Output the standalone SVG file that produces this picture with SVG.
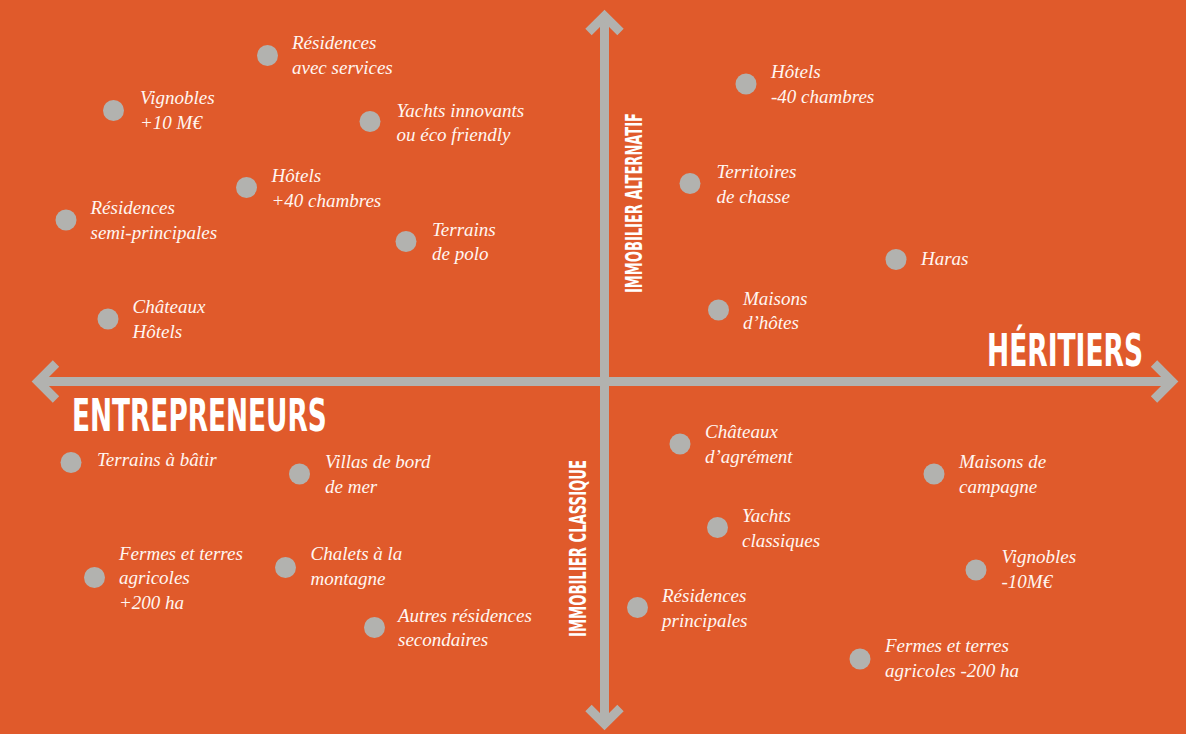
<svg xmlns="http://www.w3.org/2000/svg" width="1186" height="734" viewBox="0 0 1186 734">
  <style>
    .dot { fill: #B2B2AF; }
    .lbl { font-family: "Liberation Serif", "DejaVu Serif", serif; font-style: italic; font-size: 19px; fill: #FFF6F1; }
    .axis { stroke: #B2B2AF; stroke-width: 9; fill: none; stroke-linejoin: miter; stroke-miterlimit: 10; }
    .head { font-family: "Liberation Sans Narrow", "DejaVu Sans Condensed", "Liberation Sans", sans-serif; font-weight: bold; font-size: 44px; fill: #FFFFFF; }
    .vlab { font-family: "Liberation Sans Narrow", "DejaVu Sans Condensed", "Liberation Sans", sans-serif; font-weight: bold; font-size: 23px; fill: #FFFFFF; }
  </style>
  <rect width="1186" height="734" fill="#E05A2B"/>

  <g id="connectors">
    <line class="axis" x1="40" y1="381.5" x2="1170" y2="381.5"/>
    <line class="axis" x1="604.5" y1="18" x2="604.5" y2="722"/>
    <polyline class="axis" points="56,363.5 38,381.5 56,399.5"/>
    <polyline class="axis" points="1154,363.5 1172,381.5 1154,399.5"/>
    <polyline class="axis" points="588.5,32 604.5,16 620.5,32"/>
    <polyline class="axis" points="588.5,708 604.5,724 620.5,708"/>
  </g>

  <g id="axis-labels">
    <text class="head" transform="translate(72,431) scale(0.667,1)" x="0" y="0" textLength="382" lengthAdjust="spacingAndGlyphs">ENTREPRENEURS</text>
    <text class="head" transform="translate(987,366) scale(0.667,1)" x="0" y="0" textLength="234" lengthAdjust="spacingAndGlyphs">HÉRITIERS</text>
    <text class="vlab" transform="translate(642,293) rotate(-90)" x="0" y="0" textLength="180" lengthAdjust="spacingAndGlyphs">IMMOBILIER ALTERNATIF</text>
    <text class="vlab" transform="translate(586,637) rotate(-90)" x="0" y="0" textLength="177" lengthAdjust="spacingAndGlyphs">IMMOBILIER CLASSIQUE</text>
  </g>

  <g id="n-residences-services">
    <circle class="dot" cx="267.5" cy="55.5" r="10.5"/>
    <text class="lbl" x="292" y="49">Résidences</text>
    <text class="lbl" x="292" y="73.5">avec services</text>
  </g>
  <g id="n-vignobles-plus">
    <circle class="dot" cx="113.5" cy="110.5" r="10.5"/>
    <text class="lbl" x="140" y="103.5">Vignobles</text>
    <text class="lbl" x="140" y="128.5">+10 M€</text>
  </g>
  <g id="n-yachts-innovants">
    <circle class="dot" cx="370" cy="121.5" r="10.5"/>
    <text class="lbl" x="396.5" y="117">Yachts innovants</text>
    <text class="lbl" x="396.5" y="141">ou éco friendly</text>
  </g>
  <g id="n-hotels-plus">
    <circle class="dot" cx="246.5" cy="187.5" r="10.5"/>
    <text class="lbl" x="271.5" y="181.5">Hôtels</text>
    <text class="lbl" x="271.5" y="206.5">+40 chambres</text>
  </g>
  <g id="n-residences-semi">
    <circle class="dot" cx="66" cy="220" r="10.5"/>
    <text class="lbl" x="90.5" y="213.5">Résidences</text>
    <text class="lbl" x="90.5" y="238.5">semi-principales</text>
  </g>
  <g id="n-terrains-polo">
    <circle class="dot" cx="406" cy="241.5" r="10.5"/>
    <text class="lbl" x="432" y="235.5">Terrains</text>
    <text class="lbl" x="432" y="260">de polo</text>
  </g>
  <g id="n-chateaux-hotels">
    <circle class="dot" cx="108" cy="319" r="10.5"/>
    <text class="lbl" x="132.5" y="313">Châteaux</text>
    <text class="lbl" x="132.5" y="337.5">Hôtels</text>
  </g>
  <g id="n-hotels-moins">
    <circle class="dot" cx="746" cy="84" r="10.5"/>
    <text class="lbl" x="771" y="78">Hôtels</text>
    <text class="lbl" x="771" y="102.5">-40 chambres</text>
  </g>
  <g id="n-territoires-chasse">
    <circle class="dot" cx="690" cy="183.5" r="10.5"/>
    <text class="lbl" x="716.5" y="178">Territoires</text>
    <text class="lbl" x="716.5" y="202.5">de chasse</text>
  </g>
  <g id="n-haras">
    <circle class="dot" cx="896" cy="259.5" r="10.5"/>
    <text class="lbl" x="921" y="264.5">Haras</text>
  </g>
  <g id="n-maisons-hotes">
    <circle class="dot" cx="718.5" cy="310" r="10.5"/>
    <text class="lbl" x="743" y="304.5">Maisons</text>
    <text class="lbl" x="743" y="328.5">d’hôtes</text>
  </g>
  <g id="n-terrains-batir">
    <circle class="dot" cx="71" cy="462.5" r="10.5"/>
    <text class="lbl" x="97" y="465.5">Terrains à bâtir</text>
  </g>
  <g id="n-villas">
    <circle class="dot" cx="299.5" cy="474" r="10.5"/>
    <text class="lbl" x="325" y="468">Villas de bord</text>
    <text class="lbl" x="325" y="492.5">de mer</text>
  </g>
  <g id="n-fermes-plus">
    <circle class="dot" cx="94.5" cy="577.5" r="10.5"/>
    <text class="lbl" x="119" y="559.5">Fermes et terres</text>
    <text class="lbl" x="119" y="584">agricoles</text>
    <text class="lbl" x="119" y="608.5">+200 ha</text>
  </g>
  <g id="n-chalets">
    <circle class="dot" cx="285.5" cy="567.5" r="10.5"/>
    <text class="lbl" x="310.5" y="560">Chalets à la</text>
    <text class="lbl" x="310.5" y="585">montagne</text>
  </g>
  <g id="n-autres-residences">
    <circle class="dot" cx="374.5" cy="627.5" r="10.5"/>
    <text class="lbl" x="398" y="621.5">Autres résidences</text>
    <text class="lbl" x="398" y="646">secondaires</text>
  </g>
  <g id="n-chateaux-agrement">
    <circle class="dot" cx="680" cy="444" r="10.5"/>
    <text class="lbl" x="705" y="438">Châteaux</text>
    <text class="lbl" x="705" y="462.5">d’agrément</text>
  </g>
  <g id="n-maisons-campagne">
    <circle class="dot" cx="934" cy="474" r="10.5"/>
    <text class="lbl" x="959" y="467.5">Maisons de</text>
    <text class="lbl" x="959" y="492.5">campagne</text>
  </g>
  <g id="n-yachts-classiques">
    <circle class="dot" cx="717.5" cy="527.5" r="10.5"/>
    <text class="lbl" x="742" y="521.5">Yachts</text>
    <text class="lbl" x="742" y="546.5">classiques</text>
  </g>
  <g id="n-vignobles-moins">
    <circle class="dot" cx="976" cy="570" r="10.5"/>
    <text class="lbl" x="1001.5" y="563">Vignobles</text>
    <text class="lbl" x="1001.5" y="588">-10M€</text>
  </g>
  <g id="n-residences-principales">
    <circle class="dot" cx="637.5" cy="607.5" r="10.5"/>
    <text class="lbl" x="662" y="601.5">Résidences</text>
    <text class="lbl" x="662" y="626.5">principales</text>
  </g>
  <g id="n-fermes-moins">
    <circle class="dot" cx="860" cy="659" r="10.5"/>
    <text class="lbl" x="885" y="652">Fermes et terres</text>
    <text class="lbl" x="885" y="676.5">agricoles -200 ha</text>
  </g>
</svg>
